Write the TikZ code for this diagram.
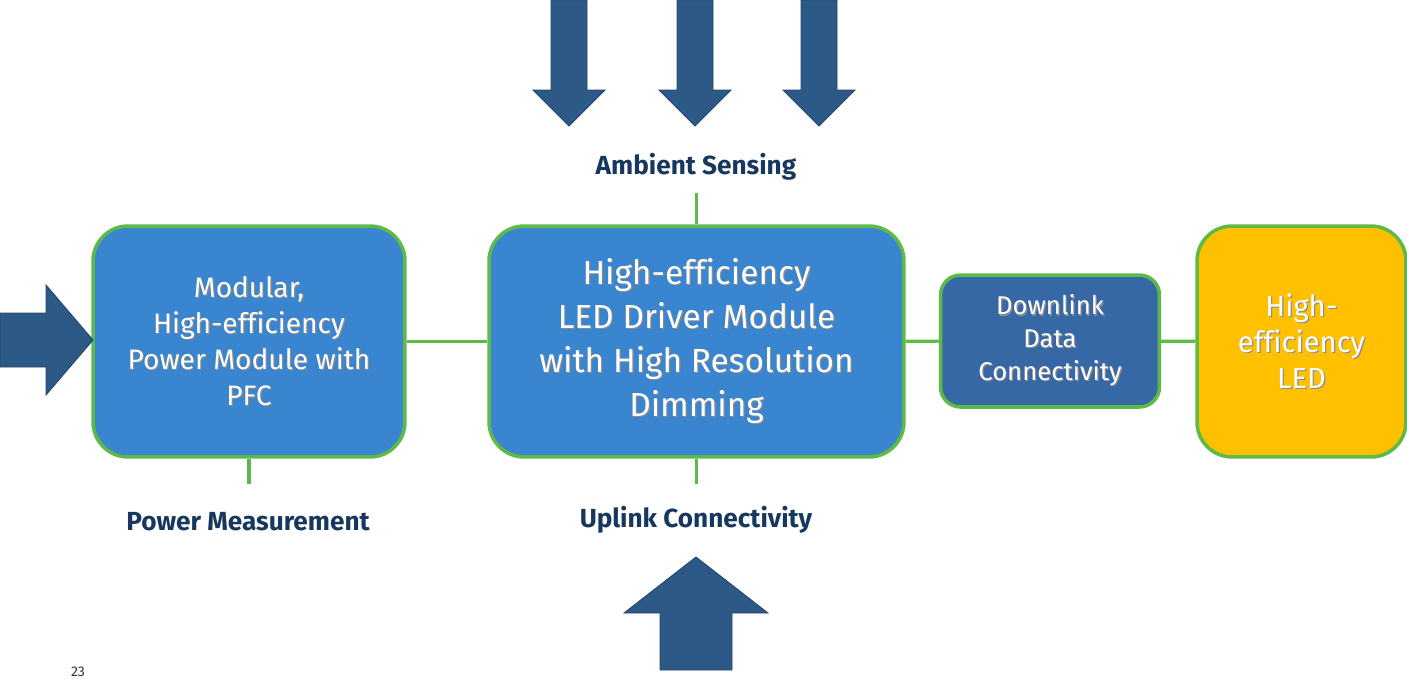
\documentclass[tikz,border=0pt]{standalone}
\usepackage{fontspec}
\setmainfont{Fira Sans}[Ligatures=CommonOff]
\usetikzlibrary{positioning}
\definecolor{boxblue}{HTML}{3A85D0}
\definecolor{darkbox}{HTML}{3768A6}
\definecolor{linkgreen}{HTML}{5DBA48}
\definecolor{arrowfill}{HTML}{2D5986}
\definecolor{arrowline}{HTML}{22476E}
\definecolor{labeltext}{HTML}{17375E}
\definecolor{ledyellow}{HTML}{FFC000}
\newcommand{\shd}[1]{\makebox[0pt][l]{\hspace{0.7pt}\raisebox{-0.7pt}{\textcolor{black!45}{#1}}}#1}
\tikzset{
  module/.style={draw=linkgreen,line width=2pt,fill=boxblue,rounded corners=0.7cm,align=center,text=white,inner sep=0pt},
  link/.style={draw=linkgreen,line width=1.8pt},
  bigarrow/.style={fill=arrowfill,draw=arrowline,line width=0.5pt},
  tag/.style={font=\fontsize{14.9}{17}\selectfont\bfseries,text=labeltext},
}
\begin{document}
\begin{tikzpicture}[x=0.02cm,y=-0.02cm]
  \useasboundingbox (0,0) rectangle (1407,694);
  % blocks
  \node[module,minimum width=6.24cm,minimum height=4.62cm,font=\fontsize{16}{20.4}\selectfont] (pm) at (249,341.5)
    {\shd{Modular,}\\\shd{High-efficiency}\\\shd{Power Module with}\\\shd{PFC}};
  \node[module,minimum width=8.3cm,minimum height=4.62cm,font=\fontsize{19}{25}\selectfont] (drv) at (696.5,341.5)
    {\shd{High-efficiency}\\\shd{LED Driver Module}\\\shd{with High Resolution}\\\shd{Dimming}};
  \node[module,fill=darkbox,rounded corners=0.4cm,minimum width=4.38cm,minimum height=2.64cm,font=\fontsize{14.6}{18.7}\selectfont] (dl) at (1050,341)
    {\shd{Downlink}\\\shd{Data}\\\shd{Connectivity}};
  \node[module,fill=ledyellow,minimum width=4.18cm,minimum height=4.62cm,font=\fontsize{16.6}{20.4}\selectfont] (led) at (1301.5,341.5)
    {\shd{High-}\\\shd{efficiency}\\\shd{LED}};
  \foreach \a/\b in {pm/drv,drv/dl,dl/led} \draw[link] (\a) -- (\b);
  % labels and stubs
  \node[tag] (amb) at (696,167) {Ambient Sensing};
  \node[tag] (pwr) at (248,522) {Power Measurement};
  \node[tag] (up) at (696,520) {Uplink Connectivity};
  \draw[link] (drv.north) -- ++(0,-31);
  \draw[link] (drv.south) -- ++(0,25);
  \draw[link] (pm.south) -- ++(0,25);
  % block arrows
  \foreach \x in {569,695,819}
    \draw[bigarrow] (\x-18,0) -- (\x+18,0) -- (\x+18,90) -- (\x+36,90) -- (\x,126) -- (\x-36,90) -- (\x-18,90) -- cycle;
  \draw[bigarrow] (660,670) -- (660,613) -- (624,613) -- (696,557) -- (768,613) -- (732,613) -- (732,670) -- cycle;
  \draw[bigarrow] (0,313) -- (46,313) -- (46,285) -- (93,340) -- (46,395) -- (46,367) -- (0,367) -- cycle;
  \node[font=\fontsize{8}{10}\selectfont,text=black!80] (pg) at (78,672) {23};
\end{tikzpicture}
\end{document}
